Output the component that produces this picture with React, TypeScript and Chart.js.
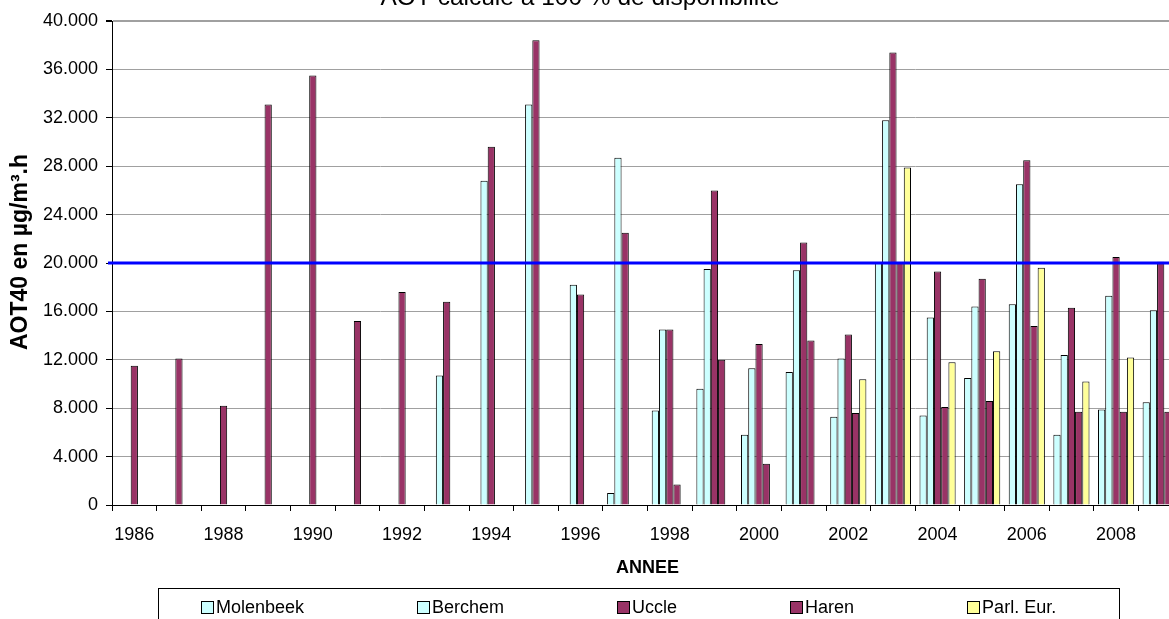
import React, { useEffect, useRef } from "react";
import { Chart, registerables } from "chart.js";

Chart.register(...registerables);

const YEARS = [
  "1986", "1987", "1988", "1989", "1990", "1991", "1992", "1993",
  "1994", "1995", "1996", "1997", "1998", "1999", "2000", "2001",
  "2002", "2003", "2004", "2005", "2006", "2007", "2008", "2009",
];

const MOLENBEEK = [
  null, null, null, null, null, null, null, null,
  null, null, null, 1000, 7800, 9600, 5800, 11000,
  7300, 20000, 7400, 10500, 16600, 5800, 7900, 8500,
];

const BERCHEM = [
  null, null, null, null, null, null, null, 10700,
  26800, 33100, 18200, 28700, 14500, 19500, 11300, 19400,
  12100, 31800, 15500, 16400, 26500, 12400, 17300, 16100,
];

const UCCLE = [
  11500, 12100, 8200, 33100, 35500, 15200, 17600, 16800,
  29600, 38400, 17400, 22500, 14500, 26000, 13300, 21700,
  14100, 37400, 19300, 18700, 28500, 16300, 20500, 20100,
];

const HAREN = [
  null, null, null, null, null, null, null, null,
  null, null, null, null, 1700, 12000, 3400, 13600,
  7600, 20000, 8100, 8600, 14800, 7700, 7700, 7700,
];

const PARL_EUR = [
  null, null, null, null, null, null, null, null,
  null, null, null, null, null, null, null, null,
  10400, 27900, 11800, 12700, 19600, 10200, 12200, 14000,
];

const SERIES_NAMES = ["Molenbeek", "Berchem", "Uccle", "Haren", "Parl. Eur."];
const SERIES_COLORS = ["#CCFFFF", "#CCFFFF", "#993366", "#993366", "#FFFF99"];

const THRESHOLD = 20000;
const Y_MIN = 0;
const Y_MAX = 40000;
const Y_STEP = 4000;

const TITLE = "AOT calculé à 100 % de disponibilité";
const Y_TITLE = "AOT40 en µg/m³.h";
const X_TITLE = "ANNEE";

const FONT = "'Liberation Sans', Arial, sans-serif";

const overlay = {
  id: "overlay",
  afterDatasetsDraw(chart: any) {
    const { ctx, chartArea, scales } = chart;
    const y = scales.y.getPixelForValue(THRESHOLD);
    ctx.save();
    ctx.strokeStyle = "#0000FF";
    ctx.lineWidth = 3;
    ctx.beginPath();
    ctx.moveTo(chartArea.left - 4, y);
    ctx.lineTo(chartArea.right, y);
    ctx.stroke();
    ctx.restore();
  },
  afterDraw(chart: any) {
    const { ctx, chartArea } = chart;
    ctx.save();
    ctx.fillStyle = "#000";

    // Title (cut at top)
    ctx.font = `24.5px ${FONT}`;
    ctx.textAlign = "center";
    ctx.textBaseline = "alphabetic";
    ctx.fillText(TITLE, 580, 5);

    // Y axis title
    ctx.save();
    ctx.translate(21, 252);
    ctx.rotate(-Math.PI / 2);
    ctx.font = `bold 23px ${FONT}`;
    ctx.textAlign = "center";
    ctx.textBaseline = "middle";
    ctx.fillText(Y_TITLE, 0, 0);
    ctx.restore();

    // X axis title
    ctx.font = `bold 18px ${FONT}`;
    ctx.textAlign = "center";
    ctx.textBaseline = "middle";
    ctx.fillText(X_TITLE, (chartArea.left + chartArea.right) / 2, 568);

    // Legend box
    const boxL = 158.5;
    const boxR = 1119.5;
    const boxT = 588.5;
    ctx.strokeStyle = "#000";
    ctx.lineWidth = 1;
    ctx.strokeRect(boxL, boxT, boxR - boxL, 80);

    ctx.font = `18px ${FONT}`;
    const sq = 12;
    const gapTxt = 3;
    const gapItem = 113;
    let x = 201;
    const cy = 607;
    ctx.textAlign = "left";
    ctx.textBaseline = "middle";
    SERIES_NAMES.forEach((n, i) => {
      const w = ctx.measureText(n).width;
      const sx = Math.round(x) + 0.5;
      const sy = Math.round(cy - sq / 2) + 0.5;
      ctx.fillStyle = SERIES_COLORS[i];
      ctx.fillRect(sx, sy, sq, sq);
      ctx.strokeStyle = "#000";
      ctx.strokeRect(sx, sy, sq, sq);
      ctx.fillStyle = "#000";
      ctx.fillText(n, x + sq + gapTxt, cy + 1);
      x += sq + gapTxt + w + gapItem;
    });
    ctx.restore();
  },
};

export default function App() {
  const ref = useRef<HTMLCanvasElement | null>(null);

  useEffect(() => {
    if (!ref.current) return;
    const seriesData = [MOLENBEEK, BERCHEM, UCCLE, HAREN, PARL_EUR];
    const tickFont = { family: FONT, size: 18 };
    const chart = new Chart(ref.current, {
      type: "bar",
      data: {
        labels: YEARS,
        datasets: seriesData.map((d, i) => ({
          label: SERIES_NAMES[i],
          data: d,
          backgroundColor: SERIES_COLORS[i],
          borderColor: "#000",
          borderWidth: 1,
          categoryPercentage: 0.81,
          barPercentage: 1,
        })),
      },
      options: {
        responsive: false,
        animation: false,
        devicePixelRatio: 1,
        layout: { padding: { top: 21, right: 1, left: 0, bottom: 0 } },
        plugins: {
          legend: { display: false },
          title: { display: false },
          tooltip: { enabled: false },
        },
        scales: {
          x: {
            grid: {
              offset: true,
              drawOnChartArea: false,
              drawTicks: true,
              tickLength: 6,
              tickColor: "#000",
            },
            border: { display: true, color: "#000", width: 1 },
            ticks: {
              autoSkip: false,
              maxRotation: 0,
              minRotation: 0,
              padding: 13,
              color: "#000",
              font: tickFont,
              callback: (_v: any, i: number) => (i % 2 === 0 ? YEARS[i] : ""),
            },
            afterFit: (s: any) => {
              s.height = 135;
            },
          },
          y: {
            min: Y_MIN,
            max: Y_MAX,
            ticks: {
              stepSize: Y_STEP,
              padding: 8,
              color: "#000",
              font: tickFont,
              callback: (v: any) => (Number(v) === 0 ? "0" : (Number(v) / 1000).toFixed(3)),
            },
            grid: {
              color: "#A0A0A0",
              lineWidth: (c: any) => (c.tick && c.tick.value === Y_MAX ? 2 : 1),
              tickColor: "#000",
              tickLength: 6,
              drawTicks: true,
            },
            border: { color: "#000", width: 1 },
            afterFit: (s: any) => {
              s.width = 112;
            },
          },
        },
      },
      plugins: [overlay],
    } as any);
    return () => chart.destroy();
  }, []);

  return (
    <div
      style={{
        position: "fixed",
        left: 0,
        top: 0,
        width: 1169,
        height: 619,
        overflow: "hidden",
        background: "#fff",
      }}
    >
      <canvas ref={ref} width={1184} height={640} style={{ display: "block" }} />
    </div>
  );
}
